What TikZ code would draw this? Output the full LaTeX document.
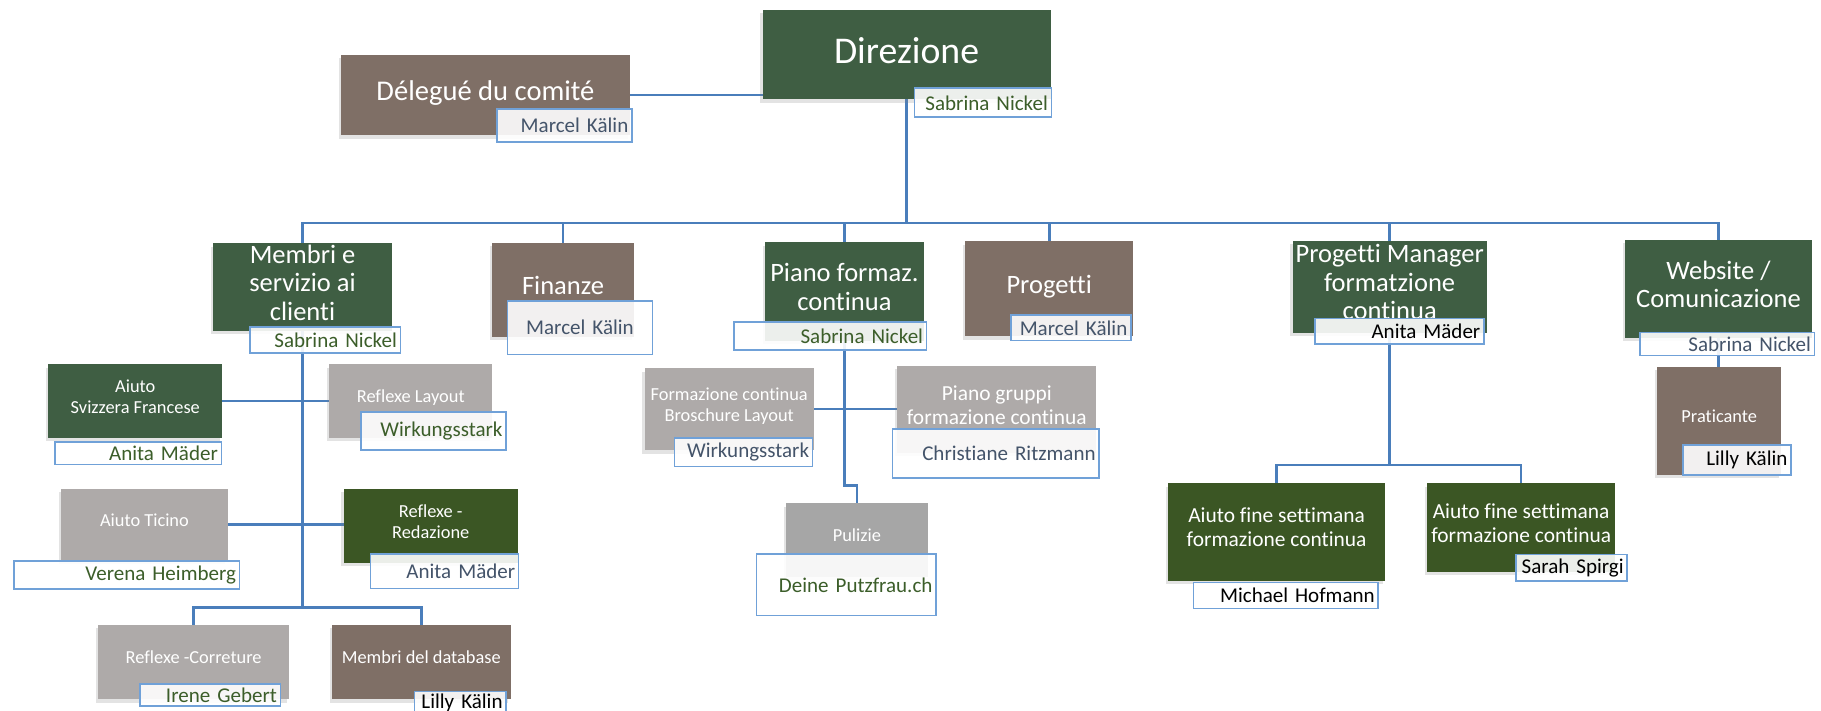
\documentclass[tikz,border=0pt]{standalone}
\usepackage{fontspec}
\setmainfont{Carlito}[Ligatures=CommonOff]
\usepackage{tikz}
\usetikzlibrary{shadows, backgrounds}

\definecolor{dirgreen}{RGB}{63,94,67}
\definecolor{olivegreen}{RGB}{59,86,36}
\definecolor{taupe}{RGB}{127,111,102}
\definecolor{stone}{RGB}{174,170,169}
\definecolor{ash}{RGB}{166,166,166}
\definecolor{wireblue}{RGB}{74,126,187}
\definecolor{frameblue}{RGB}{112,161,216}
\definecolor{namegreen}{RGB}{60,94,42}
\definecolor{slate}{RGB}{68,84,106}

\begin{document}
\begin{tikzpicture}[
	x=0.2mm, y=-0.2mm,
	every node/.style = {inner sep=0mm, outer sep=0mm},
	unit/.style n args = {3}{shape=rectangle, fill=#1, text=white, align=center, minimum width=#2*0.2mm, minimum height=#3*0.2mm, execute at end node={\rule[-4.4pt]{0pt}{0pt}}, drop shadow={opacity=0.22, shadow xshift=-0.4mm, shadow yshift=-0.6mm}},
	who/.style n args = {3}{shape=rectangle, draw=frameblue, line width=0.8pt, fill=white, fill opacity=0.9, text opacity=1, text=#1, inner xsep=0.6mm, /utils/exec={\pgfmathsetlengthmacro\whowidth{(#2-6)*0.2mm}}, text width=\whowidth, minimum height=#3*0.2mm, align=right, font=\fontsize{10.3}{12}\selectfont},
	wire/.style = {draw=wireblue, line width=1.3pt},
	tbig/.style = {font=\fontsize{18.5}{21}\selectfont},
	tdel/.style = {font=\fontsize{14}{16}\selectfont},
	tlvl/.style = {font=\fontsize{13}{14}\selectfont},
	tmid/.style = {font=\fontsize{10.5}{11.8}\selectfont},
	tsml/.style = {font=\fontsize{9}{10.2}\selectfont},
	]
\useasboundingbox (0,0) rectangle (1568,612);
% top
\node[unit={dirgreen}{248}{77}, tbig] (dir) at (780.6,47) {Direzione};
\node[who={namegreen}{118}{25}] (dirl) at (846.3,88.5) {Sabrina Nickel};
\node[unit={taupe}{249}{69}, tdel] (del) at (418,81.8) {Délegué du comité};
\node[who={slate}{116}{28}] (dell) at (486,108) {Marcel Kälin};
% second row, from left to right
\node[unit={dirgreen}{154}{75}, tlvl] (memb) at (260.5,247.1) {Membri e\\servizio ai\\clienti};
\node[who={namegreen}{129.5}{22.4}] (membl) at (280,293) {Sabrina Nickel};
\node[unit={taupe}{122}{81}, tlvl] (fin) at (484.8,249.3) {Finanze};
\node[who={slate}{125}{46}, align=center] (finl) at (499.4,282.2) {Marcel Kälin};
\node[unit={dirgreen}{137}{85}, tlvl] (piano) at (727.1,251) {Piano formaz.\\continua};
\node[who={namegreen}{166}{24}] (pianol) at (714.8,289.5) {Sabrina Nickel};
\node[unit={taupe}{145}{82}, tlvl] (prog) at (903.4,248.7) {Progetti};
\node[who={slate}{103}{22}] (progl) at (922.2,282.3) {Marcel Kälin};
\node[unit={dirgreen}{167}{79}, tlvl] (pm) at (1196.6,246.9) {Progetti Manager\\formatzione\\continua};
\node[who={black}{145.5}{22}] (pml) at (1204.9,285.2) {Anita Mäder};
\node[unit={dirgreen}{161}{84}, tlvl] (web) at (1479.7,248.6) {Website /\\Comunicazione};
\node[who={slate}{150}{20}] (webl) at (1487.3,296.2) {Sabrina Nickel};
% under Membri
\node[unit={dirgreen}{150}{63}, tsml] (asf) at (116.5,345.3) {Aiuto\\Svizzera Francese};
\node[who={namegreen}{143}{19.5}] (asfl) at (119.1,390.1) {Anita Mäder};
\node[unit={stone}{140}{63}, tsml] (rlay) at (353.7,345.3) {Reflexe Layout};
\node[who={namegreen}{125}{33}] (rlayl) at (373.2,371) {Wirkungsstark};
\node[unit={stone}{143}{62}, tsml] (tic) at (124.4,451.8) {Aiuto Ticino};
\node[who={namegreen}{194}{24.6}] (ticl) at (109.2,495.1) {Verena Heimberg};
\node[unit={olivegreen}{150}{63.5}, tsml] (red) at (370.9,452.8) {Reflexe -\\Redazione};
\node[who={slate}{127.6}{29.6}] (redl) at (382.8,491.8) {Anita Mäder};
\node[unit={stone}{164.5}{64}, tsml] (corr) at (166.75,570.1) {Reflexe -Correture};
\node[who={namegreen}{121}{19}] (corrl) at (180.9,598.5) {Irene Gebert};
\node[unit={taupe}{154}{64}, tsml] (dbm) at (362.75,570.1) {Membri del database};
\node[who={black}{79}{18.5}] (dbml) at (396.3,604.8) {Lilly Kälin};
% under Piano formaz.
\node[unit={stone}{145.5}{70.4}, tsml] (form) at (627.9,352.3) {Formazione continua\\Broschure Layout};
\node[who={slate}{119}{24.4}] (forml) at (640.2,389.6) {Wirkungsstark};
\node[unit={stone}{171.5}{75}, tmid] (pgr) at (858.3,352.5) {Piano gruppi\\formazione continua};
\node[who={slate}{178}{42}] (pgrl) at (857.4,390.4) {Christiane Ritzmann};
\node[unit={ash}{122}{63}, tsml] (pul) at (737.8,465) {Pulizie};
\node[who={namegreen}{154.4}{53}] (pull) at (728.7,503.6) {Deine Putzfrau.ch};
% under Progetti Manager
\node[unit={olivegreen}{186.5}{84}, tmid] (afs1) at (1099.25,458.1) {Aiuto fine settimana\\formazione continua};
\node[who={black}{159}{22.4}] (afs1l) at (1107.2,512.6) {Michael Hofmann};
\node[unit={olivegreen}{161.6}{76}, tmid] (afs2) at (1309.8,454.2) {Aiuto fine settimana\\formazione continua};
\node[who={black}{96}{22.7}] (afs2l) at (1353.1,488.7) {Sarah Spirgi};
% under Website
\node[unit={taupe}{107}{93}, tsml] (prat) at (1480.35,362.4) {Praticante};
\node[who={black}{93}{26}] (pratl) at (1495.6,396.1) {Lilly Kälin};
% bus heights
\coordinate (bus) at (0,192);
\coordinate (mbus) at (0,523);
\coordinate (pbus) at (0,418.2);
\coordinate (abus) at (0,400.4);
% connectors, behind the boxes
\begin{pgfonlayer}{background}
\draw[wire] (del.east) -- (del.east -| dir.west);
\draw[wire] (dir.south) -- (dir.south |- bus);
\draw[wire] (memb.north) |- (web.north |- bus) -- (web.north);
\draw[wire] (fin.north) -- (fin.north |- bus);
\draw[wire] (piano.north) -- (piano.north |- bus);
\draw[wire] (prog.north) -- (prog.north |- bus);
\draw[wire] (pm.north) -- (pm.north |- bus);
\draw[wire] (memb.south) -- (memb.south |- mbus);
\draw[wire] (corr.north) |- (dbm.north |- mbus) -- (dbm.north);
\draw[wire] (asf.east) -- (rlay.west);
\draw[wire] (tic.east) -- (tic.east -| red.west);
\draw[wire] (piano.south) |- (pbus -| pul.north) -- (pul.north);
\draw[wire] (form.east) -- (form.east -| pgr.west);
\draw[wire] (pm.south) -- (pm.south |- abus);
\draw[wire] (afs1.north) |- (afs2.north |- abus) -- (afs2.north);
\draw[wire] (web.south) -- (web.south |- prat.north);
\end{pgfonlayer}
\end{tikzpicture}
\end{document}
